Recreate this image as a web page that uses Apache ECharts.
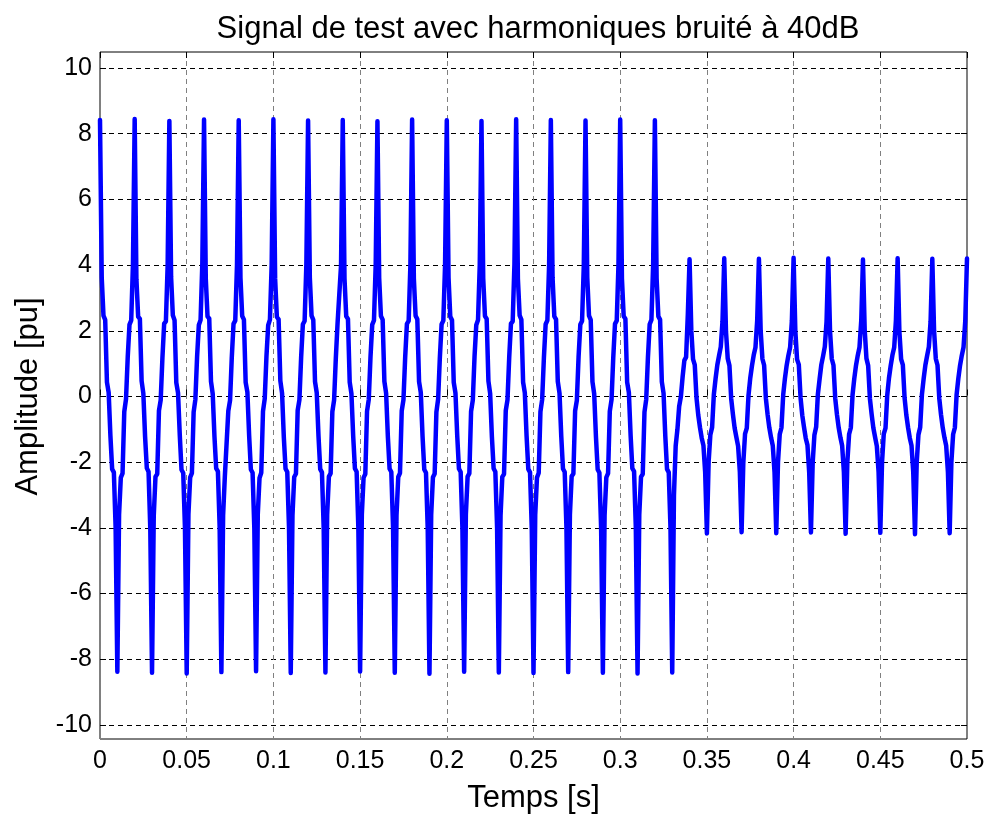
<!DOCTYPE html>
<html>
<head>
<meta charset="utf-8">
<script src="https://cdn.jsdelivr.net/npm/echarts@6/dist/echarts.min.js"></script>
<style>
html,body{margin:0;padding:0;background:#fff;}
#chart{width:990px;height:819px;}
</style>
</head>
<body>
<div id="chart"></div>
<script>
// Sampling: one sample every millisecond, starting at t = 0 s
const sampleStep = 0.001;

// Samples from t = 0.000 s to t = 0.339 s (high-amplitude part, one row = one 20 ms period)
const signalHigh = [
  8.42, 3.61, 2.46, 2.33, 0.44, 0.12, -1.19, -2.21, -2.31, -3.98, -8.38, -3.59, -2.47, -2.34, -0.46, -0.08, 1.21, 2.19, 2.32, 4.02,
  8.45, 3.57, 2.43, 2.36, 0.47, 0.09, -1.22, -2.18, -2.29, -4.03, -8.41, -3.63, -2.44, -2.36, -0.43, -0.11, 1.18, 2.22, 2.29, 3.97,
  8.39, 3.64, 2.47, 2.32, 0.42, 0.11, -1.17, -2.23, -2.33, -4.01, -8.43, -3.58, -2.46, -2.33, -0.47, -0.09, 1.22, 2.18, 2.33, 4.03,
  8.43, 3.59, 2.44, 2.37, 0.46, 0.08, -1.21, -2.19, -2.28, -3.97, -8.39, -3.61, -2.43, -2.37, -0.44, -0.12, 1.19, 2.21, 2.31, 3.99,
  8.41, 3.62, 2.45, 2.34, 0.43, 0.13, -1.18, -2.22, -2.32, -4.02, -8.36, -3.57, -2.48, -2.32, -0.45, -0.07, 1.23, 2.17, 2.34, 4.01,
  8.44, 3.58, 2.42, 2.35, 0.48, 0.10, -1.23, -2.20, -2.30, -3.99, -8.42, -3.62, -2.45, -2.35, -0.42, -0.10, 1.20, 2.20, 2.30, 4.00,
  8.40, 3.63, 2.46, 2.33, 0.45, 0.11, -1.20, -2.21, -2.31, -4.00, -8.40, -3.60, -2.44, -2.34, -0.46, -0.11, 1.17, 2.23, 2.28, 3.98,
  8.42, 3.60, 2.44, 2.36, 0.44, 0.09, -1.19, -2.19, -2.29, -4.01, -8.37, -3.59, -2.47, -2.36, -0.45, -0.09, 1.21, 2.19, 2.32, 4.02,
  8.38, 3.61, 2.45, 2.34, 0.46, 0.10, -1.21, -2.20, -2.30, -3.98, -8.41, -3.61, -2.45, -2.33, -0.44, -0.10, 1.20, 2.21, 2.30, 4.00,
  8.43, 3.59, 2.46, 2.35, 0.45, 0.12, -1.20, -2.22, -2.32, -4.03, -8.44, -3.60, -2.46, -2.35, -0.47, -0.08, 1.19, 2.20, 2.31, 4.01,
  8.41, 3.62, 2.43, 2.33, 0.43, 0.10, -1.18, -2.20, -2.30, -4.00, -8.38, -3.58, -2.44, -2.34, -0.45, -0.11, 1.22, 2.18, 2.33, 3.99,
  8.39, 3.60, 2.45, 2.36, 0.47, 0.09, -1.22, -2.19, -2.29, -3.99, -8.40, -3.62, -2.45, -2.36, -0.43, -0.10, 1.20, 2.22, 2.29, 4.02,
  8.44, 3.58, 2.47, 2.34, 0.44, 0.11, -1.19, -2.21, -2.31, -4.02, -8.42, -3.60, -2.47, -2.33, -0.46, -0.09, 1.18, 2.20, 2.32, 4.00,
  8.42, 3.61, 2.44, 2.35, 0.46, 0.10, -1.20, -2.20, -2.30, -4.00, -8.39, -3.59, -2.43, -2.35, -0.44, -0.12, 1.21, 2.19, 2.30, 3.98,
  8.40, 3.63, 2.46, 2.33, 0.45, 0.08, -1.21, -2.22, -2.32, -4.01, -8.41, -3.61, -2.46, -2.34, -0.45, -0.10, 1.19, 2.21, 2.31, 4.01,
  8.43, 3.59, 2.45, 2.36, 0.44, 0.12, -1.18, -2.19, -2.28, -3.98, -8.43, -3.60, -2.45, -2.36, -0.47, -0.09, 1.20, 2.20, 2.33, 4.02,
  8.41, 3.60, 2.44, 2.34, 0.45, 0.10, -1.20, -2.21, -2.31, -4.00, -8.40, -3.00, -1.50, -1.00, -0.30, 0.00, 0.60, 1.10, 1.20, 2.50
];

// Samples from t = 0.340 s to t = 0.500 s (low-amplitude part)
const signalLow = [
  4.18, 2.02, 1.14, 0.96, -0.04, -0.56, -0.94, -1.26, -1.49, -2.31, -4.17, -1.98, -1.16, -0.94, 0.06, 0.54, 0.96, 1.24, 1.51, 2.29,
  4.21, 1.98, 1.16, 0.94, -0.06, -0.54, -0.96, -1.24, -1.51, -2.29, -4.13, -2.01, -1.14, -0.96, 0.04, 0.56, 0.94, 1.26, 1.49, 2.31,
  4.19, 2.01, 1.15, 0.95, -0.05, -0.55, -0.95, -1.25, -1.50, -2.30, -4.16, -2.00, -1.15, -0.95, 0.05, 0.55, 0.95, 1.25, 1.50, 2.30,
  4.22, 1.99, 1.13, 0.97, -0.03, -0.57, -0.93, -1.27, -1.48, -2.32, -4.14, -2.02, -1.17, -0.93, 0.07, 0.53, 0.97, 1.23, 1.52, 2.28,
  4.20, 2.00, 1.15, 0.95, -0.05, -0.55, -0.95, -1.25, -1.50, -2.30, -4.18, -1.99, -1.15, -0.95, 0.05, 0.55, 0.95, 1.25, 1.50, 2.30,
  4.17, 2.03, 1.16, 0.94, -0.06, -0.54, -0.96, -1.24, -1.51, -2.29, -4.15, -2.00, -1.14, -0.96, 0.04, 0.56, 0.94, 1.26, 1.49, 2.31,
  4.21, 1.98, 1.14, 0.96, -0.04, -0.56, -0.94, -1.26, -1.49, -2.31, -4.19, -2.01, -1.16, -0.94, 0.06, 0.54, 0.96, 1.24, 1.51, 2.29,
  4.19, 2.01, 1.15, 0.95, -0.05, -0.55, -0.95, -1.25, -1.50, -2.30, -4.16, -1.99, -1.15, -0.95, 0.05, 0.55, 0.95, 1.25, 1.50, 2.30,
  4.20
];

// Axis ticks
const xTicks = [0, 0.05, 0.1, 0.15, 0.2, 0.25, 0.3, 0.35, 0.4, 0.45, 0.5];
const xTickLabels = ['0', '0.05', '0.1', '0.15', '0.2', '0.25', '0.3', '0.35', '0.4', '0.45', '0.5'];
const yTicks = [-10, -8, -6, -4, -2, 0, 2, 4, 6, 8, 10];
const yTickLabels = ['-10', '-8', '-6', '-4', '-2', '0', '2', '4', '6', '8', '10'];

const titleText = 'Signal de test avec harmoniques bruité à 40dB';
const xName = 'Temps [s]';
const yName = 'Amplitude [pu]';

const allValues = signalHigh.concat(signalLow);
const seriesData = allValues.map((v, i) => [Math.round(i) * sampleStep, v]);

function labelFor(ticks, labels) {
  return function (val) {
    for (let i = 0; i < ticks.length; i++) {
      if (Math.abs(ticks[i] - val) < 1e-9) return labels[i];
    }
    return '';
  };
}

const FONT = 'Liberation Sans, Arial, Helvetica, sans-serif';
const chart = echarts.init(document.getElementById('chart'), null, { renderer: 'canvas' });

const option = {
  animation: false,
  backgroundColor: '#ffffff',
  title: {
    text: titleText,
    left: 533,
    top: 9,
    textAlign: 'center',
    textStyle: { fontFamily: FONT, fontSize: 31, fontWeight: 'normal', color: '#000' }
  },
  grid: [
    { left: 100, right: 23, top: 52, bottom: 79, show: true, borderColor: '#000', borderWidth: 1, backgroundColor: '#fff', containLabel: false },
    { left: 100, right: 23, top: 68, bottom: 94, containLabel: false }
  ],
  xAxis: [
    {
      gridIndex: 0, type: 'value', position: 'bottom',
      min: 0, max: 0.5, interval: 0.05,
      name: xName, nameLocation: 'middle', nameGap: 44,
      nameTextStyle: { fontFamily: FONT, fontSize: 31, color: '#000' },
      axisLine: { show: false },
      axisTick: { show: true, inside: true, length: 6, lineStyle: { color: '#000', width: 1 } },
      axisLabel: { show: true, margin: 10, fontFamily: FONT, fontSize: 25, color: '#000', formatter: labelFor(xTicks, xTickLabels) },
      splitLine: { show: true, lineStyle: { color: '#808080', width: 1, type: [5, 4] } }
    },
    {
      gridIndex: 0, type: 'value', position: 'top',
      min: 0, max: 0.5, interval: 0.05,
      axisLine: { show: false },
      axisTick: { show: true, inside: true, length: 6, lineStyle: { color: '#000', width: 1 } },
      axisLabel: { show: false },
      splitLine: { show: false }
    },
    {
      gridIndex: 1, type: 'value', min: 0, max: 0.5, interval: 0.05, show: false,
      splitLine: { show: false }
    }
  ],
  yAxis: [
    {
      gridIndex: 0, type: 'value', min: -10.5, max: 10.5, show: false,
      splitLine: { show: false }
    },
    {
      gridIndex: 1, type: 'value', position: 'left',
      min: -10, max: 10, interval: 2,
      name: yName, nameLocation: 'middle', nameGap: 56,
      nameTextStyle: { fontFamily: FONT, fontSize: 31, color: '#000' },
      axisLine: { show: false },
      axisTick: { show: true, inside: true, length: 6, lineStyle: { color: '#000', width: 1 } },
      axisLabel: { show: true, margin: 8, fontFamily: FONT, fontSize: 25, color: '#000', formatter: labelFor(yTicks, yTickLabels) },
      splitLine: { show: true, lineStyle: { color: '#000', width: 1, type: [5, 4] } }
    },
    {
      gridIndex: 1, type: 'value', position: 'right',
      min: -10, max: 10, interval: 2,
      axisLine: { show: false },
      axisTick: { show: true, inside: true, length: 6, lineStyle: { color: '#000', width: 1 } },
      axisLabel: { show: false },
      splitLine: { show: false }
    }
  ],
  series: [
    {
      type: 'line',
      xAxisIndex: 2,
      yAxisIndex: 1,
      data: seriesData,
      showSymbol: false,
      symbol: 'none',
      clip: true,
      lineStyle: { color: '#0000ff', width: 4.5, join: 'round', cap: 'round' },
      emphasis: { disabled: true }
    }
  ]
};

chart.setOption(option);
</script>
</body>
</html>
